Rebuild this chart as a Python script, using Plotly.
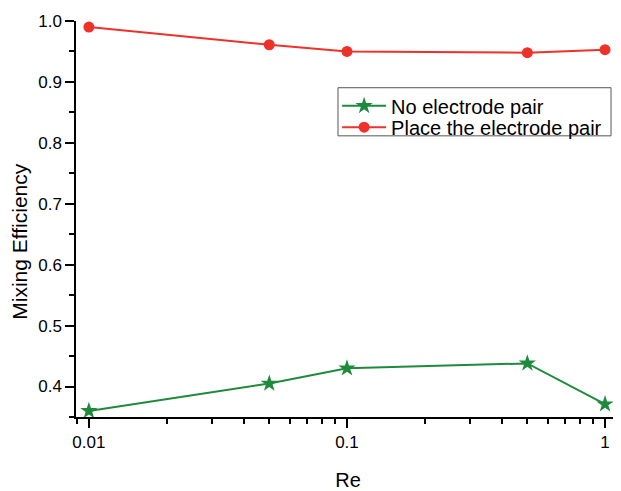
import plotly.graph_objects as go

re_vals = [0.01, 0.05, 0.1, 0.5, 1]
no_pair = [0.360, 0.405, 0.430, 0.438, 0.371]
with_pair = [0.990, 0.961, 0.950, 0.948, 0.953]
x_tickvals = [0.01, 0.1, 1]
x_ticktext = ["0.01", "0.1", "1"]
y_tickvals = [0.4, 0.5, 0.6, 0.7, 0.8, 0.9, 1.0]
y_ticktext = ["0.4", "0.5", "0.6", "0.7", "0.8", "0.9", "1.0"]

GREEN = "#1E8B3C"
RED = "#EE3129"
FONT = "Liberation Sans, Arial, sans-serif"

fig = go.Figure()
fig.add_trace(go.Scatter(
    x=re_vals, y=no_pair, mode="lines+markers", name="No electrode pair",
    line=dict(color=GREEN, width=2),
    marker=dict(symbol="star", size=13, color=GREEN),
    legend="legend",
))
fig.add_trace(go.Scatter(
    x=re_vals, y=with_pair, mode="lines+markers", name="Place the electrode pair",
    line=dict(color=RED, width=2),
    marker=dict(symbol="circle", size=11, color=RED),
    legend="legend2",
))

leg_common = dict(
    xanchor="left", yanchor="top",
    borderwidth=0, bgcolor="rgba(0,0,0,0)",
    font=dict(size=20, family=FONT), itemwidth=44,
)

fig.update_layout(
    width=613, height=483,
    margin=dict(l=68, r=1, t=13, b=59),
    plot_bgcolor="white", paper_bgcolor="white",
    font=dict(family=FONT, color="black", size=18),
    showlegend=True,
    legend=dict(x=0.480, y=0.835, **leg_common),
    legend2=dict(x=0.480, y=0.781, **leg_common),
    shapes=[
        dict(type="rect", xref="paper", yref="paper",
             x0=0.4816, x1=0.9835, y0=0.7100, y1=0.8315,
             line=dict(color="#555555", width=1), fillcolor="rgba(0,0,0,0)",
             layer="above"),
        dict(type="line", xref="paper", yref="paper",
             x0=-0.007, x1=0.0, y0=0, y1=0,
             line=dict(color="black", width=1.5), layer="above"),
    ],
    annotations=[dict(text="Mixing Efficiency", xref="paper", yref="paper",
                      x=-0.1030, y=0.445, xanchor="center", yanchor="middle",
                      textangle=-90, showarrow=False,
                      font=dict(size=21, family=FONT, color="black"))],
    xaxis=dict(
        type="log", range=[-2.05, 0.058],
        tickvals=x_tickvals, ticktext=x_ticktext,
        ticks="outside", ticklen=9, tickwidth=1.5, tickcolor="black",
        showline=True, linecolor="black", linewidth=1.5,
        showgrid=False, zeroline=False,
        minor=dict(ticks="outside", ticklen=5, tickwidth=1.5, tickcolor="black",
                   dtick="D1", showgrid=False),
        title=dict(text="Re", font=dict(size=20, family=FONT), standoff=24),
        tickfont=dict(size=17, family=FONT),
    ),
    yaxis=dict(
        range=[0.35, 1.0],
        tickvals=y_tickvals, ticktext=y_ticktext,
        ticks="outside", ticklen=9, tickwidth=1.5, tickcolor="black",
        showline=True, linecolor="black", linewidth=1.5,
        showgrid=False, zeroline=False,
        minor=dict(ticks="outside", ticklen=5, tickwidth=1.5, tickcolor="black",
                   dtick=0.05, tick0=0.35, showgrid=False),
        tickfont=dict(size=17, family=FONT),
    ),
)

fig.write_html("out.html")
